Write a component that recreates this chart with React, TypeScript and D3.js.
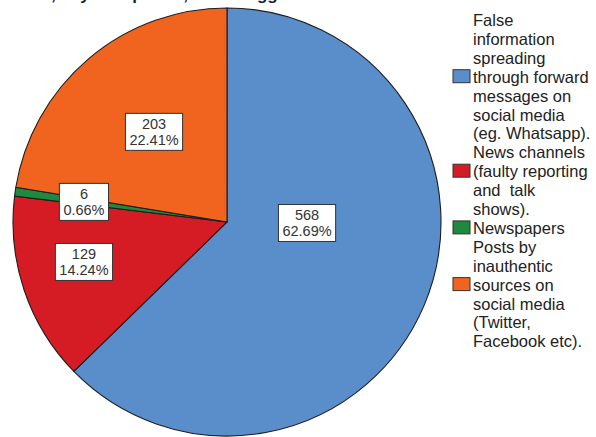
import React from "react";
import * as d3 from "d3";

// ---- data ----
const categories = [
  "False information spreading through forward messages on social media (eg. Whatsapp).",
  "News channels (faulty reporting and talk shows).",
  "Newspapers",
  "Posts by inauthentic sources on social media (Twitter, Facebook etc).",
];
const counts = [568, 129, 6, 203];
const percents = ["62.69%", "14.24%", "0.66%", "22.41%"];
const legendLines = [
  ["False", "information", "spreading", "through forward", "messages on", "social media", "(eg. Whatsapp)."],
  ["News channels", "(faulty reporting", "and  talk", "shows)."],
  ["Newspapers"],
  ["Posts by", "inauthentic", "sources on", "social media", "(Twitter,", "Facebook etc)."],
];
const colors = ["#5a8ecb", "#d51c24", "#1f8a3e", "#f0641f"];
const titleText = "Which, in your opinion, is the biggest source of fake news?";

// ---- layout ----
const W = 596;
const H = 437;
const cx = 227;
const cy = 222;
const R = 214;
// label placement (angle clockwise from 12 o'clock, fraction of radius)
const labelAngleDeg = [90.7, 254.4, 278, 321];
const labelRadiusFrac = [0.374, 0.694, 0.675, 0.542];
const legendX = 453;
const legendTextX = 473;
const legendTop = 26;
const legendLineH = 18.9;
const swatchW = 17;
const swatchH = 13;
const swatchLine = [3, 1, 0, 2]; // line within each group that the swatch sits on

function measure(text: string, font: string): number {
  const c = document.createElement("canvas").getContext("2d");
  if (!c) return text.length * 7.5;
  c.font = font;
  return c.measureText(text).width;
}

export default function App() {
  const pie = d3.pie<number>().sort(null).startAngle(0).endAngle(2 * Math.PI);
  const arcs = pie(counts);
  const arc = d3.arc<d3.PieArcDatum<number>>().innerRadius(0).outerRadius(R);
  const labelFont = "14.5px 'Liberation Sans', Arial, sans-serif";

  let lineIdx = 0;
  const legendItems = legendLines.map((lines, gi) => {
    const start = lineIdx;
    lineIdx += lines.length;
    return { lines, start, gi };
  });

  return (
    <svg
      width={W}
      height={H}
      style={{ position: "absolute", left: 0, top: 0, background: "#fff" }}
      fontFamily="'Liberation Sans', Arial, sans-serif"
    >
      <rect x={0} y={0} width={W} height={H} fill="#fff" />
      <text x={0} y={-0.5} fontSize={17} fontWeight="bold" fill="#222">
        {titleText}
      </text>
      <g transform={`translate(${cx},${cy})`}>
        {arcs.map((a, i) => (
          <path key={i} d={arc(a) || ""} fill={colors[i]} stroke="#1e1e1e" strokeWidth={1.1} />
        ))}
        {arcs.map((a, i) => {
          const th = (labelAngleDeg[i] * Math.PI) / 180;
          const d = labelRadiusFrac[i] * R;
          const x = d * Math.sin(th);
          const y = -d * Math.cos(th);
          const l1 = String(counts[i]);
          const l2 = percents[i];
          const tw = Math.max(measure(l1, labelFont), measure(l2, labelFont));
          const bw = tw + 8;
          const bh = 37;
          return (
            <g key={"l" + i} transform={`translate(${x},${y})`}>
              <rect x={-bw / 2} y={-bh / 2} width={bw} height={bh} fill="#fff" stroke="#333" strokeWidth={1} />
              <text x={0} y={-3} textAnchor="middle" fontSize={14.5} fill="#333">
                {l1}
              </text>
              <text x={0} y={13.5} textAnchor="middle" fontSize={14.5} fill="#333">
                {l2}
              </text>
            </g>
          );
        })}
      </g>
      <g>
        {legendItems.map(({ lines, start, gi }) => {
          const sb = legendTop + (start + swatchLine[gi]) * legendLineH;
          return (
            <g key={gi}>
              <title>{categories[gi]}</title>
              <rect
                x={legendX}
                y={sb - swatchH}
                width={swatchW}
                height={swatchH}
                fill={colors[gi]}
                stroke="#333"
                strokeWidth={1}
              />
              {lines.map((t, k) => (
                <text
                  key={k}
                  x={legendTextX}
                  y={legendTop + (start + k) * legendLineH}
                  fontSize={16.5}
                  fill="#222"
                  style={{ whiteSpace: "pre" }}
                >
                  {t}
                </text>
              ))}
            </g>
          );
        })}
      </g>
    </svg>
  );
}
